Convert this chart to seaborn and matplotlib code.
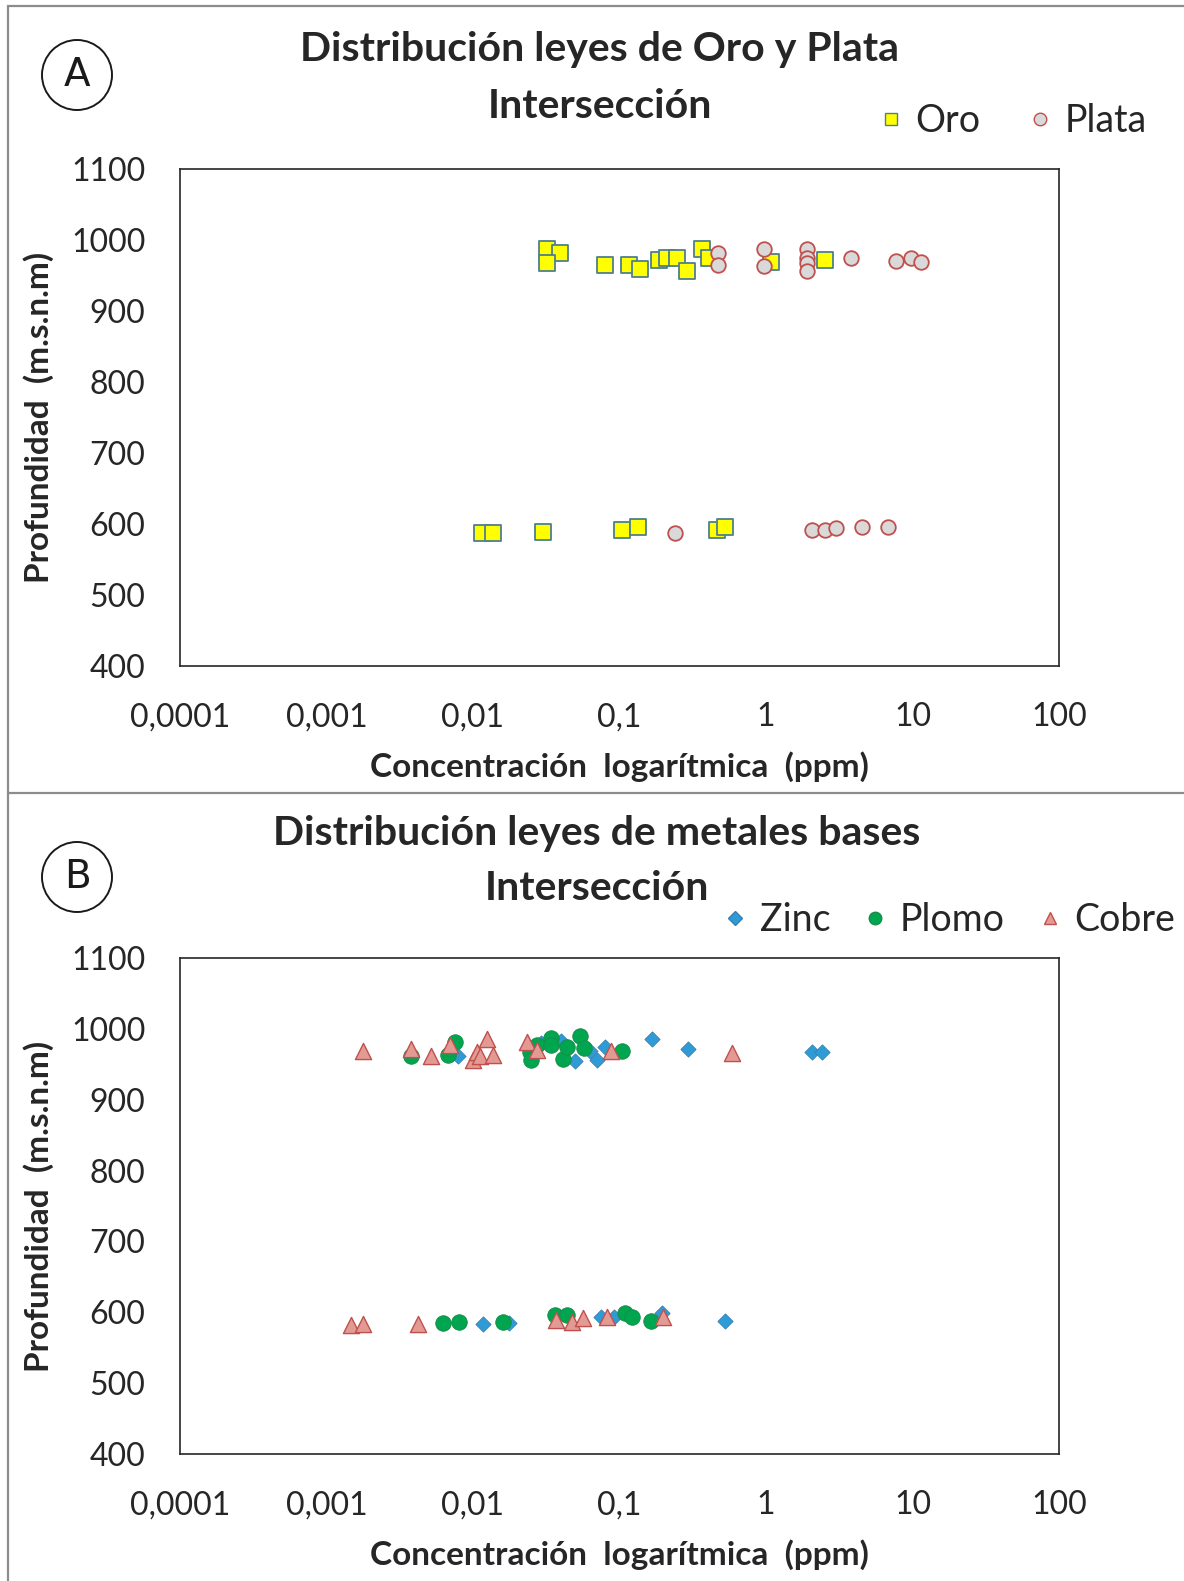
import matplotlib
matplotlib.use("Agg")
import matplotlib.pyplot as plt
from matplotlib.lines import Line2D
from matplotlib.patches import Ellipse, Rectangle
import seaborn as sns
import pandas as pd

# ---- Panel A: gold / silver grades (ppm) vs elevation (m.s.n.m) ----
oro_ppm = [0.0318, 0.039, 0.032, 0.080, 0.117, 0.138, 0.187, 0.21, 0.245, 0.29, 0.364, 0.41, 1.09, 2.53,
           0.0115, 0.0136, 0.0299, 0.1035, 0.1345, 0.46, 0.525]
oro_elev = [987, 982, 967, 965, 965, 959, 972, 974, 974, 957, 987, 974, 969, 972,
            587, 587, 589, 592, 596, 592, 596]

plata_ppm = [0.47, 0.47, 0.97, 0.97, 1.91, 1.91, 1.91, 1.91, 3.79, 7.7, 9.7, 11.4,
             0.239, 2.05, 2.53, 3.0, 4.5, 6.84]
plata_elev = [982, 965, 988, 964, 988, 974, 967, 957, 974, 971, 974, 969,
              587, 591, 591, 594, 596, 596]

# ---- Panel B: base metals (ppm) vs elevation ----
zinc_ppm = [0.0079, 0.029, 0.040, 0.0497, 0.063, 0.0707, 0.080, 0.166, 0.295, 2.05, 2.4,
            0.0117, 0.0177, 0.075, 0.0917, 0.194, 0.525]
zinc_elev = [961, 980, 983, 954, 969, 956, 974, 985, 971, 968, 967,
             583, 585, 594, 593, 599, 587]

plomo_ppm = [0.0038, 0.0068, 0.0075, 0.0245, 0.025, 0.0272, 0.0339, 0.034, 0.0413, 0.044, 0.0537, 0.0573, 0.1035,
             0.00627, 0.00805, 0.0159, 0.0363, 0.0437, 0.109, 0.121, 0.163]
plomo_elev = [962, 963, 982, 968, 956, 977, 987, 977, 958, 974, 990, 973, 969,
              585, 586, 586, 596, 596, 599, 593, 588]

cobre_ppm = [0.00177, 0.00376, 0.00514, 0.00697, 0.0100, 0.0107, 0.0111, 0.0124, 0.0136, 0.0232, 0.0275, 0.087, 0.582,
             0.00146, 0.00177, 0.00424, 0.0368, 0.0471, 0.0566, 0.0817, 0.197]
cobre_elev = [969, 971, 961, 977, 956, 968, 961, 985, 963, 982, 970, 969, 966,
              582, 584, 584, 589, 586, 592, 594, 594]

x_ticks = [0.0001, 0.001, 0.01, 0.1, 1, 10, 100]
x_tick_labels = ["0,0001", "0,001", "0,01", "0,1", "1", "10", "100"]
y_ticks = [400, 500, 600, 700, 800, 900, 1000, 1100]

sns.set_theme(style="white")
plt.rcParams["font.family"] = ["Lato", "DejaVu Sans"]

W, H = 1184, 1581
fig = plt.figure(figsize=(W / 100, H / 100), dpi=100)

# panel frames
frame_color = "#8c8c8c"
fig.add_artist(Rectangle((8 / W, -0.2), 1.2, 1.2 - 6 / H, transform=fig.transFigure,
                         fill=False, edgecolor=frame_color, linewidth=1.6))
fig.add_artist(Line2D([8 / W, 1], [1 - 793 / H, 1 - 793 / H], transform=fig.transFigure,
                      color=frame_color, linewidth=1.6))

ax_a = fig.add_axes([180 / W, 1 - 666 / H, 879 / W, 497 / H])
ax_b = fig.add_axes([180 / W, 1 - 1454 / H, 879 / W, 496 / H])

series_a = [
    ("Oro", oro_ppm, oro_elev, dict(marker="s", s=120, color="#ffff00", edgecolor="#4e7f8c", linewidth=1.3)),
    ("Plata", plata_ppm, plata_elev, dict(marker="o", s=110, color="#d9d9d9", edgecolor="#c0504d", linewidth=1.3)),
]
series_b = [
    ("Zinc", zinc_ppm, zinc_elev, dict(marker="D", s=60, color="#2e9bd6", edgecolor="#3a7fb0", linewidth=0.6)),
    ("Plomo", plomo_ppm, plomo_elev, dict(marker="o", s=125, color="#00a550", edgecolor="#1b8a4a", linewidth=0.6)),
    ("Cobre", cobre_ppm, cobre_elev, dict(marker="^", s=135, color="#e39a93", edgecolor="#c0504d", linewidth=1.0)),
]

for ax, series in ((ax_a, series_a), (ax_b, series_b)):
    for name, xs, ys, style in series:
        df = pd.DataFrame({"ppm": xs, "elev": ys})
        sns.scatterplot(data=df, x="ppm", y="elev", ax=ax, legend=False, zorder=3, **style)
    ax.set_xscale("log")
    ax.set_xlim(1e-4, 100)
    ax.set_ylim(400, 1100)
    ax.set_xticks(x_ticks, x_tick_labels)
    ax.minorticks_off()
    ax.set_yticks(y_ticks)
    ax.tick_params(axis="both", length=0, labelsize=23, labelcolor="#262626")
    ax.tick_params(axis="x", pad=26)
    ax.tick_params(axis="y", pad=25)
    for sp in ax.spines.values():
        sp.set_visible(True)
        sp.set_color("#262626")
        sp.set_linewidth(1.2)
    ax.set_xlabel("Concentración  logarítmica  (ppm)", fontsize=24, fontweight="bold", labelpad=14)
    ax.set_ylabel("Profundidad  (m.s.n.m)", fontsize=24, fontweight="bold", labelpad=12)
    ax.grid(False)

# titles
title_kw = dict(ha="center", va="center", fontsize=29.5, fontweight="bold")
fig.text(600 / W, 1 - 50 / H, "Distribución leyes de Oro y Plata", **title_kw)
fig.text(600 / W, 1 - 106 / H, "Intersección", **title_kw)
fig.text(597 / W, 1 - 833 / H, "Distribución leyes de metales bases", **title_kw)
fig.text(597 / W, 1 - 889 / H, "Intersección", **title_kw)

# panel letters in circles
for cy, letter in ((75, "A"), (877, "B")):
    fig.add_artist(Ellipse((77 / W, 1 - cy / H), 70 / W, 70 / H, transform=fig.transFigure,
                           fill=False, edgecolor="#1a1a1a", linewidth=1.4))
    fig.text(77 / W, 1 - cy / H, letter, ha="center", va="center", fontsize=28,
             family=["DejaVu Sans"], color="#1a1a1a")

def legend_handles(series, sizes):
    hs = []
    for (name, _, _, st), ms in zip(series, sizes):
        hs.append(Line2D([], [], linestyle="none", marker=st["marker"], markersize=ms,
                         markerfacecolor=st["color"], markeredgecolor=st["edgecolor"],
                         markeredgewidth=1.0, label=name))
    return hs

fig.legend(handles=legend_handles(series_a, [9, 9]), loc="center right",
           bbox_to_anchor=(1162 / W, 1 - 121 / H), ncol=2, frameon=False, fontsize=27,
           handletextpad=0.25, columnspacing=1.2, handlelength=0.8, borderaxespad=0)
fig.legend(handles=legend_handles(series_b, [7, 9, 9]), loc="center right",
           bbox_to_anchor=(1190 / W, 1 - 920 / H), ncol=3, frameon=False, fontsize=27,
           handletextpad=0.25, columnspacing=0.8, handlelength=0.8, borderaxespad=0)

fig.savefig("out.png", dpi=100)
